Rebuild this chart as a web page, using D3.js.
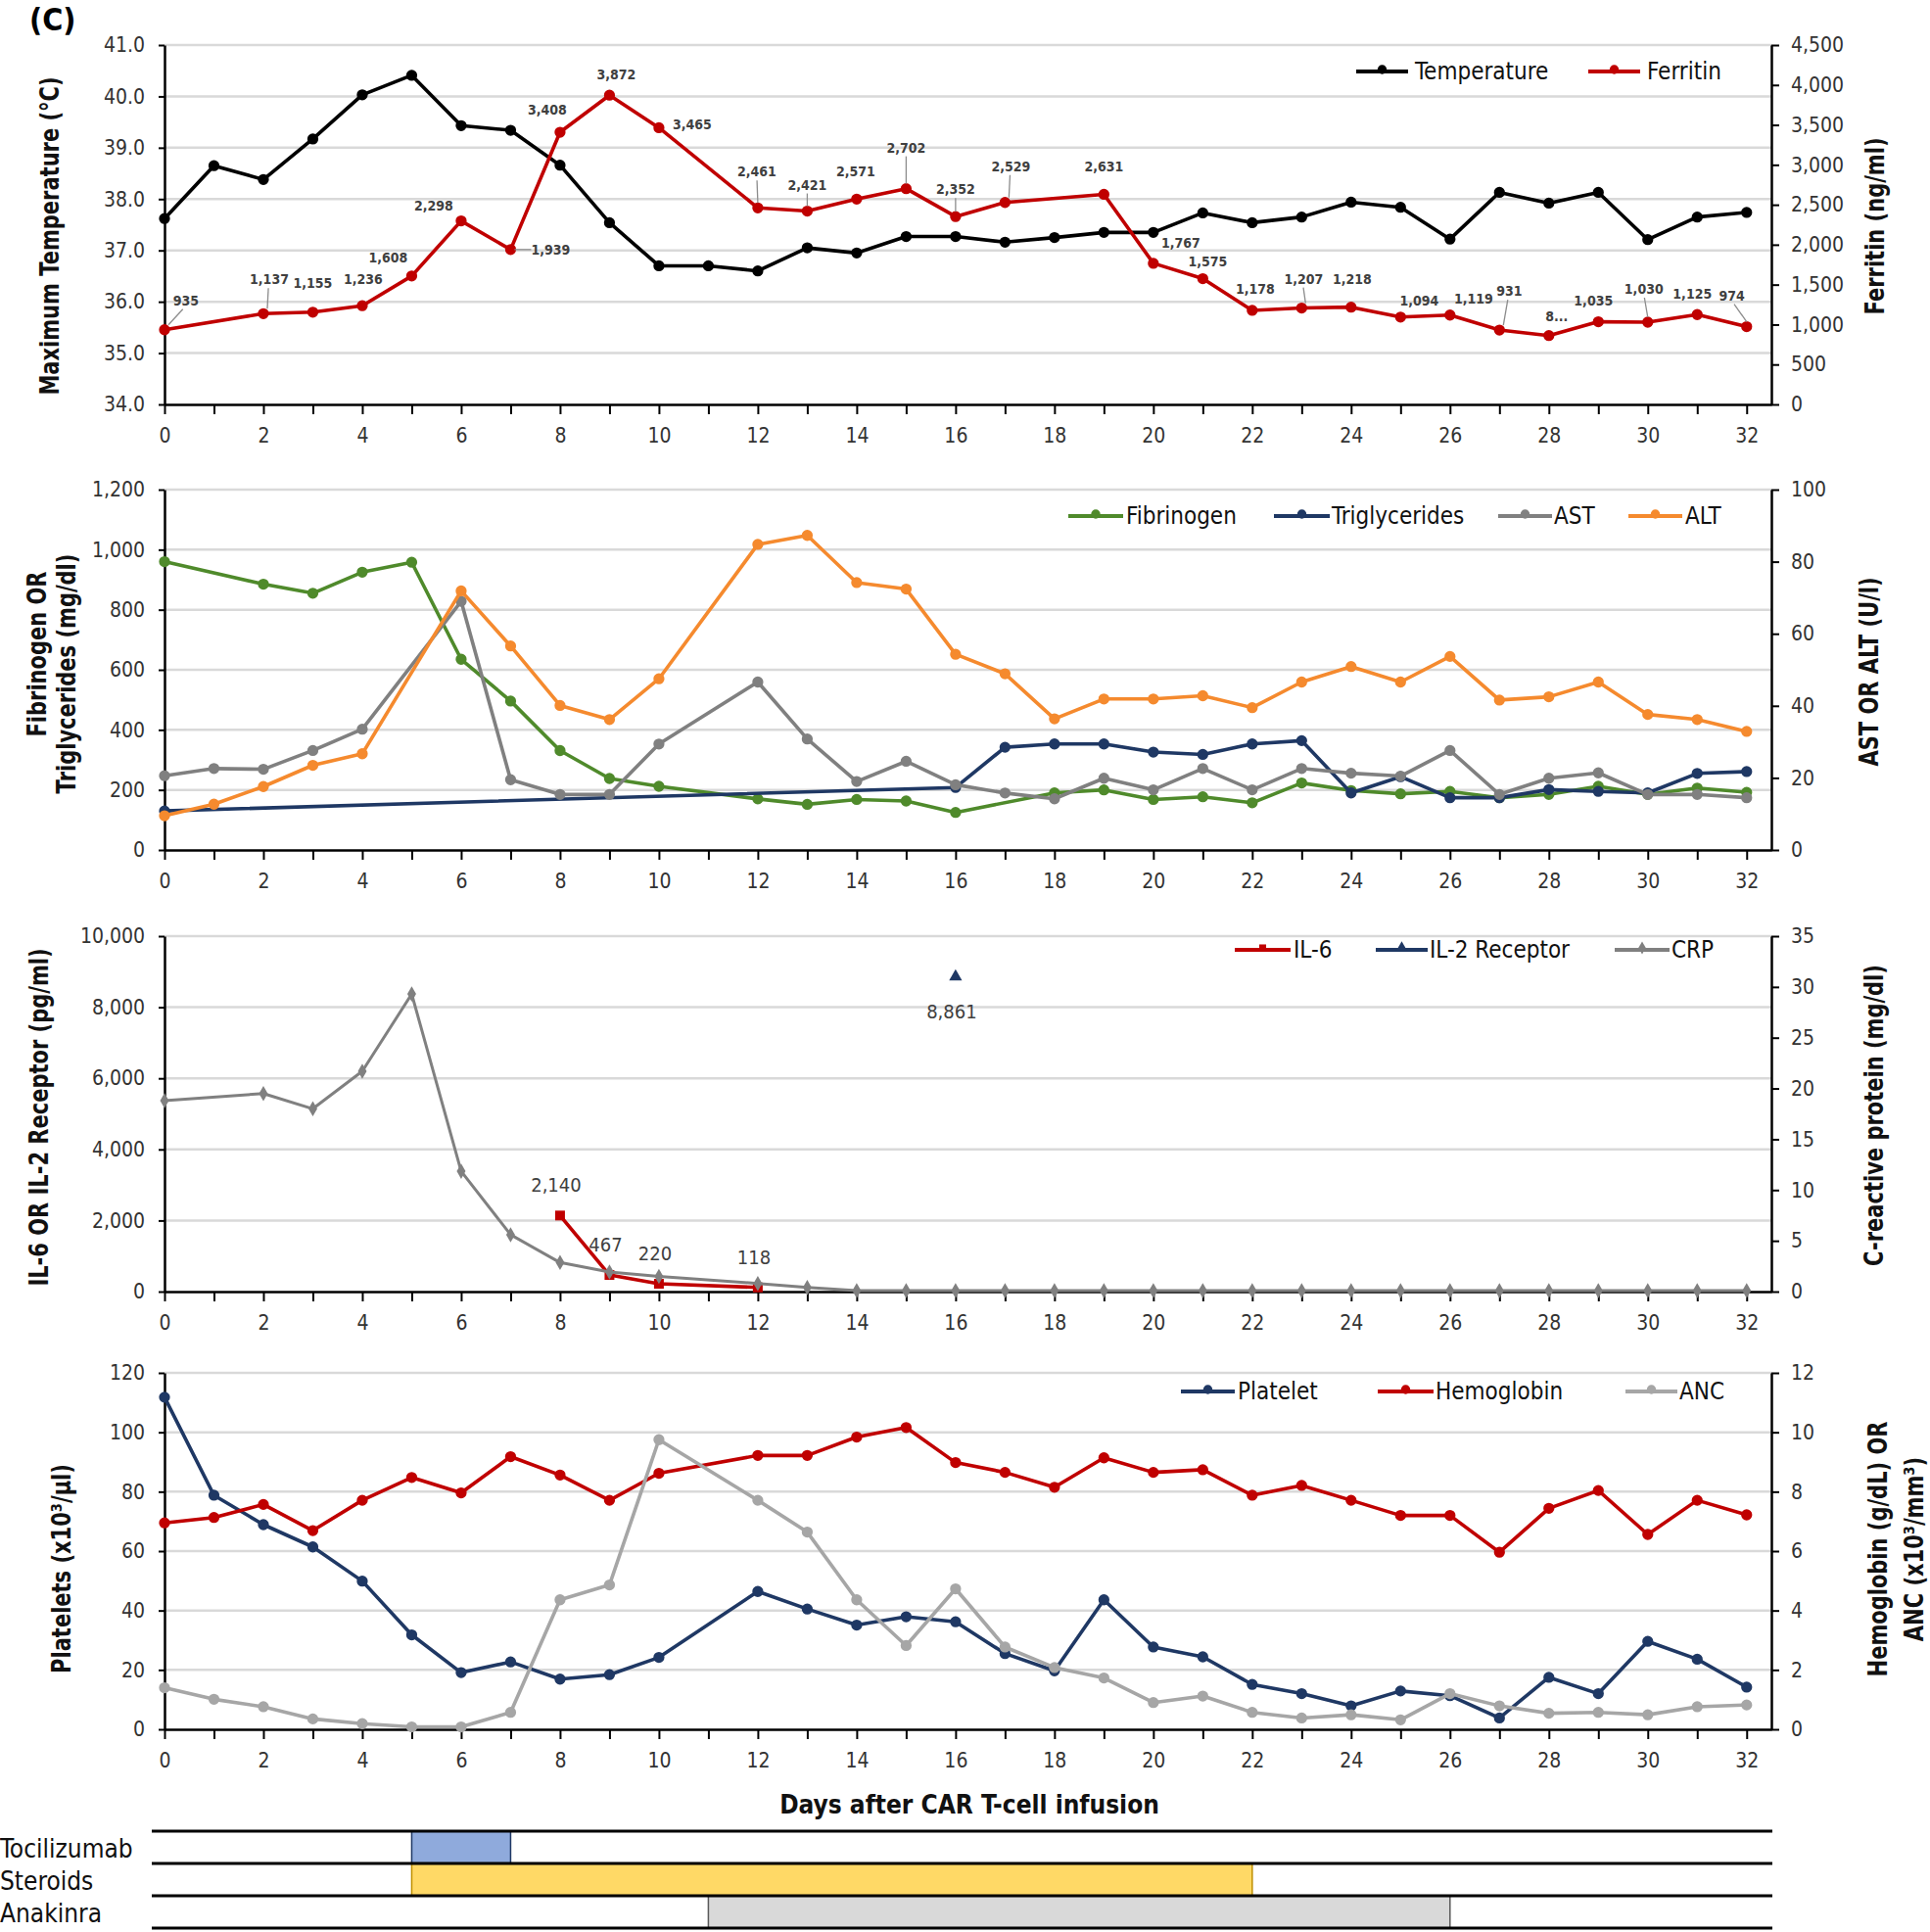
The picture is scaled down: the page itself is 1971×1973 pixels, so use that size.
<!DOCTYPE html>
<html><head><meta charset="utf-8">
<script src="https://cdn.jsdelivr.net/npm/d3@7"></script>
<style>
body{margin:0;background:#fff}
svg text{font-family:"DejaVu Sans Condensed","DejaVu Sans",sans-serif;font-stretch:condensed}
svg text.ttl{font-family:"DejaVu Sans",sans-serif;font-stretch:normal;font-weight:bold}
</style></head><body>
<svg id="c" width="1971" height="1973"></svg>
<script>
// ---------------- DATA ----------------
const dayTicks = d3.range(0, 33);

// Panel 1
const tempDays = d3.range(0, 33);
const temperature = [37.62,38.65,38.38,39.17,40.03,40.41,39.43,39.34,38.66,37.54,36.70,36.70,36.60,37.05,36.95,37.27,37.27,37.16,37.25,37.35,37.35,37.73,37.54,37.65,37.94,37.84,37.22,38.13,37.92,38.13,37.21,37.65,37.74];
const ferritinDays = [0,2,3,4,5,6,7,8,9,10,12,13,14,15,16,17,19,20,21,22,23,24,25,26,27,28,29,30,31,32];
const ferritin = [935,1137,1155,1236,1608,2298,1939,3408,3872,3465,2461,2421,2571,2702,2352,2529,2631,1767,1575,1178,1207,1218,1094,1119,931,862,1035,1030,1125,974];
const ferritinLabels = ["935","1,137","1,155","1,236","1,608","2,298","1,939","3,408","3,872","3,465","2,461","2,421","2,571","2,702","2,352","2,529","2,631","1,767","1,575","1,178","1,207","1,218","1,094","1,119","931","8...","1,035","1,030","1,125","974"];
const tempTicks = [34,35,36,37,38,39,40,41];
const ferritinTicks = [0,500,1000,1500,2000,2500,3000,3500,4000,4500];

// Panel 2
const fibDays = [0,2,3,4,5,6,7,8,9,10,12,13,14,15,16,18,19,20,21,22,23,24,25,26,27,28,29,30,31,32];
const fibrinogen = [960,885,855,925,958,635,496,331,238,212,170,152,168,163,125,190,200,168,177,157,223,198,187,195,174,185,212,185,206,192];
const trigDays = [0,16,17,18,19,20,21,22,23,24,25,26,27,28,29,30,31,32];
const triglycerides = [130,208,342,353,353,326,318,353,364,190,244,174,174,201,195,190,255,261];
const liverDays = [0,1,2,3,4,6,7,8,9,10,12,13,14,15,16,17,18,19,20,21,22,23,24,25,26,27,28,29,30,31,32];
const ast = [20.6,22.6,22.4,27.6,33.5,69.0,19.5,15.4,15.4,29.4,46.6,30.8,19.0,24.6,18.1,15.8,14.2,19.9,16.7,22.6,16.7,22.6,21.3,20.5,27.6,15.4,19.9,21.4,15.4,15.4,14.5];
const alt = [9.5,12.7,17.6,23.5,26.7,71.9,56.6,40.1,36.2,47.5,84.8,87.3,74.2,72.4,54.3,48.9,36.4,41.9,41.9,42.8,39.5,46.6,50.9,46.6,53.7,41.6,42.5,46.6,37.6,36.2,32.9];
const fibTicks = [0,200,400,600,800,1000,1200];
const liverTicks = [0,20,40,60,80,100];

// Panel 3
const il6Days = [8,9,10,12];
const il6 = [2140,467,220,118];
const il2rDays = [16];
const il2r = [8861];
const crpDays = [0,2,3,4,5,6,7,8,9,10,12,13,14,15,16,17,18,19,20,21,22,23,24,25,26,27,28,29,30,31,32];
const crp = [18.8,19.5,18.0,21.7,29.3,11.85,5.6,2.86,1.93,1.5,0.8,0.4,0.1,0.1,0.1,0.1,0.1,0.1,0.1,0.1,0.1,0.1,0.1,0.1,0.1,0.1,0.1,0.1,0.1,0.1,0.1];
const cytoTicks = [0,2000,4000,6000,8000,10000];
const crpTicks = [0,5,10,15,20,25,30,35];

// Panel 4
const bloodDays = [0,1,2,3,4,5,6,7,8,9,10,12,13,14,15,16,17,18,19,20,21,22,23,24,25,26,27,28,29,30,31,32];
const platelet = [111.8,78.8,68.9,61.4,49.9,31.8,19.1,22.7,16.9,18.4,24.2,46.4,40.5,35.1,37.9,36.2,25.5,19.7,43.6,27.7,24.4,15.1,12.0,7.9,12.9,11.3,3.8,17.5,12.0,29.6,23.6,14.2];
const hemoglobin = [6.95,7.13,7.57,6.69,7.71,8.48,7.96,9.18,8.56,7.71,8.62,9.22,9.22,9.84,10.16,8.98,8.65,8.15,9.14,8.65,8.74,7.88,8.21,7.71,7.2,7.2,5.96,7.44,8.04,6.56,7.71,7.22];
const anc = [1.40,1.01,0.76,0.35,0.19,0.08,0.08,0.57,4.36,4.86,9.75,7.71,6.64,4.36,2.82,4.73,2.77,2.08,1.73,0.9,1.12,0.57,0.38,0.49,0.32,1.2,0.79,0.54,0.57,0.49,0.76,0.82];
const plateletTicks = [0,20,40,60,80,100,120];
const hbTicks = [0,2,4,6,8,10,12];

// Treatments
const treatments = ["Tocilizumab","Steroids","Anakinra"];
const treatStart = [5,5,11];
const treatEnd = [7,22,26];

// ---------------- LAYOUT ----------------
const svg = d3.select("#c");
const X0 = 168, X1 = 1809;
const x = d3.scaleLinear().domain([0, 32.5]).range([X0, X1]);

// label nudges for ferritin data labels (pixels): [dx, dy, leader]
const ferritinNudge = [[22,-30,1],[6,-35,1],[0,-30,0],[1,-27,0],[-24,-19,0],[-28,-16,0],[41,0,1],[-13,-23,0],[7,-21,0],[34,-3,0],
 [-1,-37,1],[0,-27,1],[-1,-28,0],[0,-42,1],[0,-28,1],[6,-37,1],[0,-28,0],[28,-21,0],[5,-18,0],[3,-22,0],
 [2,-30,1],[1,-29,0],[19,-17,0],[24,-17,0],[10,-40,1],[8,-20,0],[-5,-22,0],[-4,-34,1],[-5,-21,0],[-15,-32,1]];

const C = {black:"#000000", red:"#C00000", green:"#4F8A2B", navy:"#1F3864", gray:"#808080", orange:"#F58A2E", light:"#A6A6A6"};

function makePanel(p) {
  const g = svg.append("g");
  const yL = d3.scaleLinear().domain(p.lDom).range([p.bottom, p.top]);
  const yR = d3.scaleLinear().domain(p.rDom).range([p.bottom, p.top]);
  g.selectAll(".grid").data(p.lTicks.filter(t => t !== p.lDom[0])).join("line")
    .attr("x1", X0).attr("x2", X1).attr("y1", d => yL(d)).attr("y2", d => yL(d))
    .attr("stroke", "#D9D9D9").attr("stroke-width", 2.5);
  const axL = g.append("g").attr("transform", `translate(${X0},0)`)
    .call(d3.axisLeft(yL).tickValues(p.lTicks).tickFormat(d3.format(p.lFmt)).tickSize(6).tickSizeOuter(0).tickPadding(14));
  const axR = g.append("g").attr("transform", `translate(${X1},0)`)
    .call(d3.axisRight(yR).tickValues(p.rTicks).tickFormat(d3.format(p.rFmt)).tickSize(8).tickSizeOuter(0).tickPadding(12));
  const axB = g.append("g").attr("transform", `translate(0,${p.bottom})`)
    .call(d3.axisBottom(x).tickValues(dayTicks).tickFormat(d => d % 2 ? "" : d).tickSize(10).tickSizeOuter(0).tickPadding(14));
  [axL, axR, axB].forEach(a => {
    a.select(".domain").attr("stroke", "#000").attr("stroke-width", 2.5);
    a.selectAll(".tick line").attr("stroke", "#000").attr("stroke-width", 2);
    a.selectAll(".tick text").attr("font-size", 21).attr("fill", "#333");
  });
  p.titles.forEach(t => {
    g.append("text").attr("class", "ttl")
      .attr("transform", `translate(${t.x},${t.y}) scale(1.25,1) rotate(-90)`)
      .attr("text-anchor", "middle").attr("dominant-baseline", "central")
      .attr("font-size", 21).attr("fill", "#111").text(t.text);
  });
  return {g, yL, yR};
}

function symbolPath(type, size) { return d3.symbol().type(type).size(size)(); }

function drawSeries(g, days, vals, y, s) {
  const data = days.map((d, i) => ({d, v: vals[i]}));
  if (data.length > 1) {
    g.append("path").datum(data)
      .attr("d", d3.line().x(d => x(d.d)).y(d => y(d.v)))
      .attr("fill", "none").attr("stroke", s.color).attr("stroke-width", s.width || 3.6)
      .attr("stroke-linejoin", "round");
  }
  g.selectAll(null).data(data).join("path")
    .attr("transform", d => `translate(${x(d.d)},${y(d.v)})`)
    .attr("d", symbolPath(s.sym || d3.symbolCircle, s.size || 100))
    .attr("fill", s.color);
  return data;
}

function drawLegend(g, items, y) {
  items.forEach(it => {
    g.append("line").attr("x1", it.x1).attr("x2", it.x2).attr("y1", y).attr("y2", y)
      .attr("stroke", it.color).attr("stroke-width", 4);
    g.append("path").attr("transform", `translate(${(it.x1 + it.x2) / 2},${y - 2})`)
      .attr("d", symbolPath(it.sym || d3.symbolCircle, it.size || 70)).attr("fill", it.color);
    g.append("text").attr("x", it.tx).attr("y", y).attr("dominant-baseline", "central")
      .attr("font-size", 24).attr("fill", "#111").text(it.name);
  });
}

// ---------- Panel 1 ----------
const P1 = makePanel({top:46, bottom:413, lDom:[34,41], rDom:[0,4500], lTicks:tempTicks, rTicks:ferritinTicks, lFmt:".1f", rFmt:",",
  titles:[{text:"Maximum Temperature (°C)", x:51, y:241}, {text:"Ferritin (ng/ml)", x:1915, y:231}]});
drawSeries(P1.g, tempDays, temperature, P1.yL, {color:C.black});
const fd = drawSeries(P1.g, ferritinDays, ferritin, P1.yR, {color:C.red});
fd.forEach((d, i) => {
  const [dx, dy, lead] = ferritinNudge[i];
  const px = x(d.d), py = P1.yR(d.v);
  if (lead) {
    let x2, y2;
    if (Math.abs(dy) < 5) { x2 = px + dx - 20; y2 = py; }
    else { x2 = px + dx * 0.85; y2 = py + dy + 9; }
    P1.g.append("line").attr("x1", px + (dx > 0 ? 4 : 0)).attr("y1", py - (Math.abs(dy) < 5 ? 0 : 5))
      .attr("x2", x2).attr("y2", y2).attr("stroke", "#8C8C8C").attr("stroke-width", 1.3);
  }
  P1.g.append("text").attr("x", px + dx).attr("y", py + dy).attr("text-anchor", "middle")
    .attr("dominant-baseline", "central").attr("font-size", 14).attr("font-weight", "bold")
    .attr("fill", "#404040").text(ferritinLabels[i]);
});
drawLegend(P1.g, [
  {name:"Temperature", color:C.black, x1:1385, x2:1438, tx:1445},
  {name:"Ferritin", color:C.red, x1:1622, x2:1675, tx:1682}], 73);

// ---------- Panel 2 ----------
const P2 = makePanel({top:500, bottom:868, lDom:[0,1200], rDom:[0,100], lTicks:fibTicks, rTicks:liverTicks, lFmt:",", rFmt:",",
  titles:[{text:"Fibrinogen OR", x:38, y:668}, {text:"Triglycerides (mg/dl)", x:68, y:688}, {text:"AST OR ALT (U/l)", x:1909, y:686}]});
drawSeries(P2.g, fibDays, fibrinogen, P2.yL, {color:C.green});
drawSeries(P2.g, trigDays, triglycerides, P2.yL, {color:C.navy});
drawSeries(P2.g, liverDays, ast, P2.yR, {color:C.gray});
drawSeries(P2.g, liverDays, alt, P2.yR, {color:C.orange});
drawLegend(P2.g, [
  {name:"Fibrinogen", color:C.green, x1:1091, x2:1147, tx:1150},
  {name:"Triglycerides", color:C.navy, x1:1301, x2:1358, tx:1360},
  {name:"AST", color:C.gray, x1:1530, x2:1585, tx:1587},
  {name:"ALT", color:C.orange, x1:1663, x2:1718, tx:1721}], 527);

// ---------- Panel 3 ----------
const P3 = makePanel({top:956, bottom:1319, lDom:[0,10000], rDom:[0,35], lTicks:cytoTicks, rTicks:crpTicks, lFmt:",", rFmt:",",
  titles:[{text:"IL-6 OR IL-2 Receptor (pg/ml)", x:40, y:1141}, {text:"C-reactive protein (mg/dl)", x:1914, y:1139}]});
const il6d = drawSeries(P3.g, il6Days, il6, P3.yL, {color:C.red, sym:d3.symbolSquare, size:100});
const il2d = drawSeries(P3.g, il2rDays, il2r, P3.yL, {color:C.navy, sym:d3.symbolTriangle, size:75});
drawSeries(P3.g, crpDays, crp, P3.yR, {color:C.gray, width:3, sym:d3.symbolDiamond, size:70});
il6d.forEach(d => {
  P3.g.append("text").attr("x", x(d.d) - 4).attr("y", P3.yL(d.v) - 31).attr("text-anchor", "middle")
    .attr("dominant-baseline", "central").attr("font-size", 20).attr("fill", "#404040").text(d3.format(",")(d.v));
});
il2d.forEach(d => {
  P3.g.append("text").attr("x", x(d.d) - 4).attr("y", P3.yL(d.v) + 36).attr("text-anchor", "middle")
    .attr("dominant-baseline", "central").attr("font-size", 20).attr("fill", "#404040").text(d3.format(",")(d.v));
});
drawLegend(P3.g, [
  {name:"IL-6", color:C.red, x1:1261, x2:1318, tx:1321, sym:d3.symbolSquare, size:50},
  {name:"IL-2 Receptor", color:C.navy, x1:1405, x2:1458, tx:1460, sym:d3.symbolTriangle, size:60},
  {name:"CRP", color:C.gray, x1:1649, x2:1705, tx:1707, sym:d3.symbolDiamond, size:50}], 970);

// ---------- Panel 4 ----------
const P4 = makePanel({top:1402, bottom:1766, lDom:[0,120], rDom:[0,12], lTicks:plateletTicks, rTicks:hbTicks, lFmt:",", rFmt:",",
  titles:[{text:"Platelets (x10³/µl)", x:63, y:1602}, {text:"Hemoglobin (g/dL) OR", x:1918, y:1582}, {text:"ANC (x10³/mm³)", x:1955, y:1582}]});
drawSeries(P4.g, bloodDays, platelet, P4.yL, {color:C.navy});
drawSeries(P4.g, bloodDays, hemoglobin, P4.yR, {color:C.red});
drawSeries(P4.g, bloodDays, anc, P4.yR, {color:C.light});
drawLegend(P4.g, [
  {name:"Platelet", color:C.navy, x1:1206, x2:1261, tx:1264},
  {name:"Hemoglobin", color:C.red, x1:1407, x2:1464, tx:1466},
  {name:"ANC", color:C.light, x1:1660, x2:1713, tx:1715}], 1421);

svg.append("text").attr("x", 990).attr("y", 1852).attr("text-anchor", "middle")
  .attr("font-size", 26).attr("font-weight", "bold").attr("fill", "#111").text("Days after CAR T-cell infusion");

// ---------- Treatments ----------
const rowY = [1870, 1903, 1936, 1969];
const tFill = ["#8FAADC", "#FFD966", "#D9D9D9"];
const tStroke = ["#1F3864", "#BF9000", "#595959"];
const tg = svg.append("g");
treatments.forEach((t, i) => {
  tg.append("rect").attr("x", x(treatStart[i])).attr("y", rowY[i])
    .attr("width", x(treatEnd[i]) - x(treatStart[i])).attr("height", rowY[i + 1] - rowY[i])
    .attr("fill", tFill[i]).attr("stroke", tStroke[i]).attr("stroke-width", 1.5);
  tg.append("text").attr("x", 0).attr("y", (rowY[i] + rowY[i + 1]) / 2 + 1).attr("dominant-baseline", "central")
    .attr("font-size", 26).attr("fill", "#111").text(t);
});
rowY.forEach(yy => {
  tg.append("line").attr("x1", 155).attr("x2", 1810).attr("y1", yy).attr("y2", yy)
    .attr("stroke", "#000").attr("stroke-width", 3);
});

svg.append("text").attr("x", 30).attr("y", 31).attr("font-size", 32).attr("font-weight", "bold")
  .attr("fill", "#000").text("(C)");
</script></body></html>
